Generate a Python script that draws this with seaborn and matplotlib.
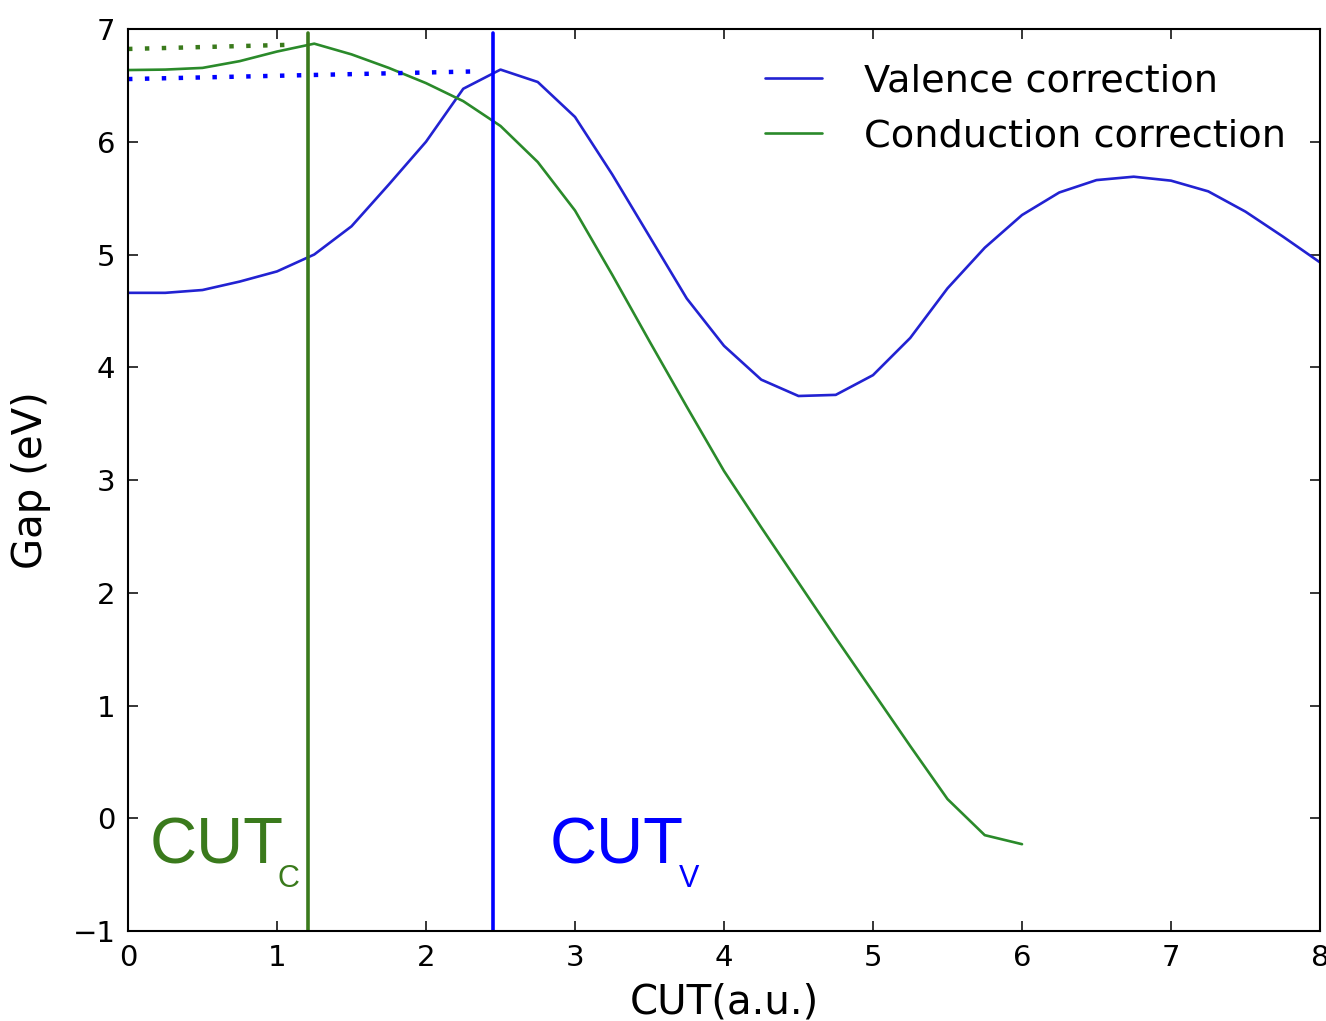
import numpy as np
import pandas as pd
import matplotlib
matplotlib.use("Agg")
import matplotlib.pyplot as plt
import seaborn as sns

# Cutoff radius grid (a.u.)
cut_valence = [0.0, 0.25, 0.5, 0.75, 1.0, 1.25, 1.5, 1.75, 2.0, 2.25, 2.5, 2.75,
               3.0, 3.25, 3.5, 3.75, 4.0, 4.25, 4.5, 4.75, 5.0, 5.25, 5.5, 5.75,
               6.0, 6.25, 6.5, 6.75, 7.0, 7.25, 7.5, 7.75, 8.0]
gap_valence = [4.66, 4.66, 4.685, 4.76, 4.85, 5.00, 5.25, 5.62, 6.00, 6.47, 6.64, 6.53,
               6.22, 5.71, 5.16, 4.61, 4.19, 3.89, 3.745, 3.755, 3.93, 4.26, 4.70, 5.06,
               5.35, 5.55, 5.66, 5.69, 5.655, 5.56, 5.38, 5.16, 4.93]

cut_conduction = [0.0, 0.25, 0.5, 0.75, 1.0, 1.25, 1.5, 1.75, 2.0, 2.25, 2.5, 2.75,
                  3.0, 3.25, 3.5, 3.75, 4.0, 4.25, 4.5, 4.75, 5.0, 5.25, 5.5, 5.75, 6.0]
gap_conduction = [6.636, 6.64, 6.655, 6.715, 6.80, 6.87, 6.775, 6.655, 6.52, 6.36, 6.14, 5.82,
                  5.39, 4.82, 4.23, 3.65, 3.08, 2.58, 2.09, 1.60, 1.12, 0.64, 0.17, -0.15, -0.23]

# Chosen cutoffs and the corresponding maximal gaps
cut_c = 1.21
cut_v = 2.45
max_gap_c_x = [0.0, 1.09]
max_gap_c_y = [6.823, 6.86]
max_gap_v_x = [0.0, 2.37]
max_gap_v_y = [6.556, 6.625]

series_labels = ["Valence correction", "Conduction correction"]
x_ticks = [0, 1, 2, 3, 4, 5, 6, 7, 8]
y_ticks = [-1, 0, 1, 2, 3, 4, 5, 6, 7]

sns.set_style("ticks")
plt.rcParams["font.family"] = ["DejaVu Sans"]
plt.rcParams["text.color"] = "black"
plt.rcParams["axes.labelcolor"] = "black"

curve_blue = "#2222d2"
curve_green = "#2a8a2a"
mark_blue = "#0000ff"
mark_green = "#3a7a1c"

fig = plt.figure(figsize=(13.26, 10.21), dpi=100)
W, H = 1326, 1021
ax = fig.add_axes([128 / W, 1 - 931 / H, (1320 - 128) / W, (931 - 29) / H])

df_v = pd.DataFrame({"cut": cut_valence, "gap": gap_valence})
df_c = pd.DataFrame({"cut": cut_conduction, "gap": gap_conduction})
sns.lineplot(data=df_v, x="cut", y="gap", ax=ax, color=curve_blue, lw=1.9,
             label=series_labels[0], sort=False)
sns.lineplot(data=df_c, x="cut", y="gap", ax=ax, color=curve_green, lw=1.9,
             label=series_labels[1], sort=False)

# dotted guides to the maximal gaps
ax.plot(max_gap_c_x, max_gap_c_y, color=mark_green, lw=3.2, ls=(0, (1, 2.8)),
        dash_capstyle="butt")
ax.plot(max_gap_v_x, max_gap_v_y, color=mark_blue, lw=3.2, ls=(0, (1, 2.8)),
        dash_capstyle="butt")

# cutoff markers
ax.axvline(cut_c, ymin=0, ymax=0.996, color=mark_green, lw=2.6)
ax.axvline(cut_v, ymin=0, ymax=0.996, color=mark_blue, lw=2.6)

ax.set_xlim(0, 8)
ax.set_ylim(-1, 7)
ax.set_xticks(x_ticks)
ax.set_yticks(y_ticks)
ax.tick_params(direction="in", length=7, width=1.1, top=True, right=True,
               labelsize=21, pad=9, colors="black")
for s in ax.spines.values():
    s.set_visible(True)
    s.set_linewidth(1.5)
    s.set_color("black")

ax.set_xlabel("CUT(a.u.)", fontsize=29, color="black")
ax.set_ylabel("Gap (eV)", fontsize=29, color="black")
ax.xaxis.set_label_coords(0.5, -0.057)
ax.yaxis.set_label_coords(-0.065, 0.5)

leg = ax.legend(loc="upper right", frameon=False, fontsize=27.5,
                handlelength=1.47, handletextpad=1.1, labelspacing=0.5,
                borderaxespad=0.5)
for t in leg.get_texts():
    t.set_color("black")

cut_font = ["Liberation Sans", "DejaVu Sans"]
ax.text(0.145, -0.397, "CUT", color=mark_green, fontsize=47, family=cut_font,
        ha="left", va="baseline")
ax.text(1.005, -0.61, "C", color=mark_green, fontsize=22, family=cut_font,
        ha="left", va="baseline")
ax.text(2.83, -0.397, "CUT", color=mark_blue, fontsize=47, family=cut_font,
        ha="left", va="baseline")
ax.text(3.70, -0.61, "V", color=mark_blue, fontsize=22, family=cut_font,
        ha="left", va="baseline")

fig.savefig("out.png", dpi=100)
